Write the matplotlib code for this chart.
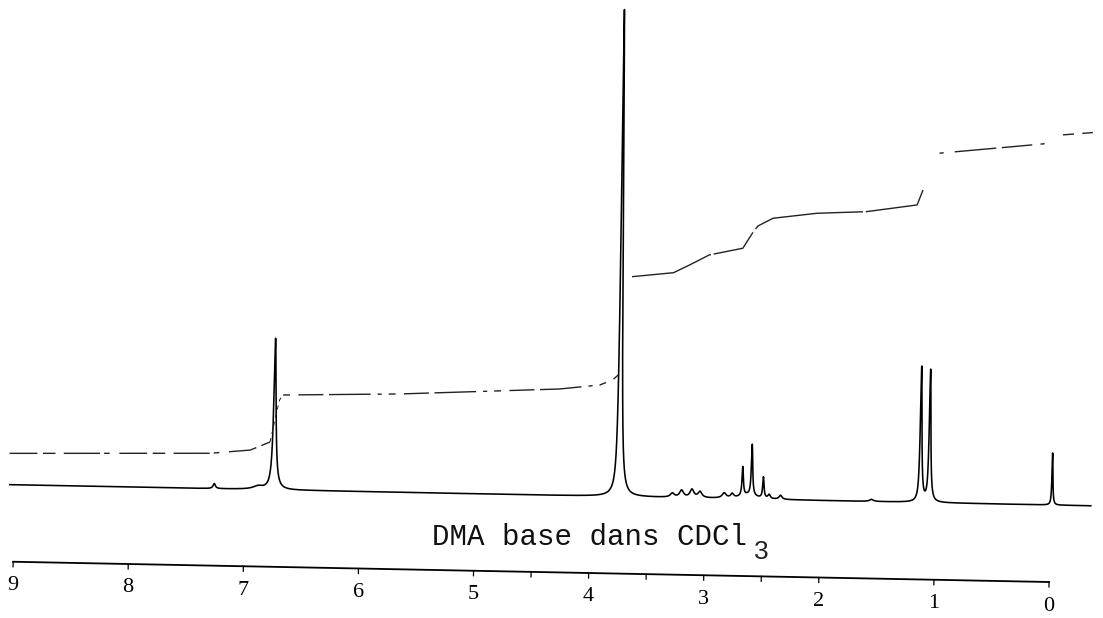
import numpy as np
import matplotlib.pyplot as plt
from matplotlib.transforms import Affine2D

plt.rcParams['lines.scale_dashes'] = False

# 1H NMR peak list: shift (ppm), height, half width at half height (ppm)
peak_ppm = [7.26, 6.88, 6.745, 6.74, 3.74, 3.28, 3.20, 3.11, 3.04, 2.83, 2.76,
            2.62, 2.67, 2.59, 2.49, 2.44, 2.34, 1.55, 1.125, 1.047, -0.02]
peak_height = [5, 3, 16, 136, 487, 4, 7, 8, 6, 5, 4,
               4, 29, 51, 21, 4, 4, 2, 135, 132, 52]
peak_width = [0.012, 0.05, 0.022, 0.011, 0.010, 0.02, 0.02, 0.02, 0.02, 0.02, 0.015,
              0.08, 0.007, 0.007, 0.007, 0.012, 0.015, 0.02, 0.0083, 0.0083, 0.005]

# integral trace, drawn in pieces (the pen skips during the steps)
int_a_ppm = [9.04, 7.30, 6.95, 6.78]
int_a = [31.3, 35.3, 39.3, 47.7]
int_ab_ppm = [6.78, 6.76, 6.73, 6.70, 6.67]
int_ab = [47.7, 58, 75, 90, 95]
int_b_ppm = [6.67, 5.66, 4.27, 3.92, 3.81, 3.76]
int_b = [95.0, 98.3, 106.4, 111.2, 116.5, 121.6]
int_c_ppm = [3.65, 3.29, 3.15, 2.98, 2.69, 2.60, 2.56, 2.43, 2.05, 1.62, 1.18, 1.13]
int_c = [220.1, 224.9, 233.0, 243.4, 250.7, 267.5, 273.3, 281.3, 287.1, 289.7, 297.4, 312.5]
int_d_ppm = [0.99, 0.35, 0.03]
int_d = [349.6, 357.6, 361.7]
int_e_ppm = [-0.08, -0.34]
int_e = [370.3, 373.2]

tick_major = [9, 8, 7, 6, 5, 4, 3, 2, 1, 0]
tick_minor = [4.5, 3.5, 2.5]

fig = plt.figure(figsize=(11.03, 6.18), dpi=100)
ax = fig.add_axes([0, 0, 1, 1])
ax.set_xlim(9.114, -0.469)
ax.set_ylim(-113, 505)
ax.axis('off')

# chart paper sits slightly skewed on the scan
tr = ax.transData + Affine2D().translate(-1049, -36).skew_deg(0.6, -1.12).translate(1049, 36)

# spectrum as a sum of Lorentzian lines
ppm = np.linspace(9.036, -0.356, 30000)
spec = np.zeros_like(ppm)
for p, h, w in zip(peak_ppm, peak_height, peak_width):
    spec += h / (1 + ((ppm - p) / w) ** 2)
ax.plot(ppm, spec, color='black', lw=1.15, transform=tr, solid_joinstyle='round')

# integral
ic = '#222222'
ax.plot(int_a_ppm, int_a, color=ic, lw=1.0, transform=tr,
        linestyle=(0, (20, 4, 9, 6, 26, 3, 4, 7)))
ax.plot(int_ab_ppm, int_ab, color=ic, lw=0.7, transform=tr, linestyle=(0, (3, 3)))
ax.plot(int_b_ppm, int_b, color=ic, lw=1.0, transform=tr,
        linestyle=(0, (5, 6, 18, 4, 30, 5, 3, 5)))
ax.plot(int_c_ppm, int_c, color=ic, lw=1.0, transform=tr,
        linestyle=(0, (60, 2, 35, 3, 80, 2)))
ax.plot(int_d_ppm, int_d, color=ic, lw=1.0, transform=tr,
        linestyle=(0, (3, 8, 30, 4, 22, 6)))
ax.plot(int_e_ppm, int_e, color=ic, lw=1.0, transform=tr,
        linestyle=(0, (8, 6, 12, 4)))

# ppm scale
ax.plot([9.0, 0.0], [-77, -77], color='black', lw=1.3, transform=tr)
for t in tick_major + tick_minor:
    ax.plot([t, t], [-77, -82], color='black', lw=0.9, transform=tr)
for t in tick_major:
    ax.text(t, -101, str(t), transform=tr, ha='center', va='center',
            fontsize=16, family='Liberation Serif')

ax.text(5.36, -52, 'DMA base dans CDCl', transform=tr, ha='left', va='baseline',
        fontsize=21, family='Liberation Mono', color='#111111')
ax.text(2.50, -53, '3', transform=tr, ha='center', va='center',
        fontsize=19, family='Liberation Sans', color='#222222')

fig.savefig('out.png', dpi=100, facecolor='white')
